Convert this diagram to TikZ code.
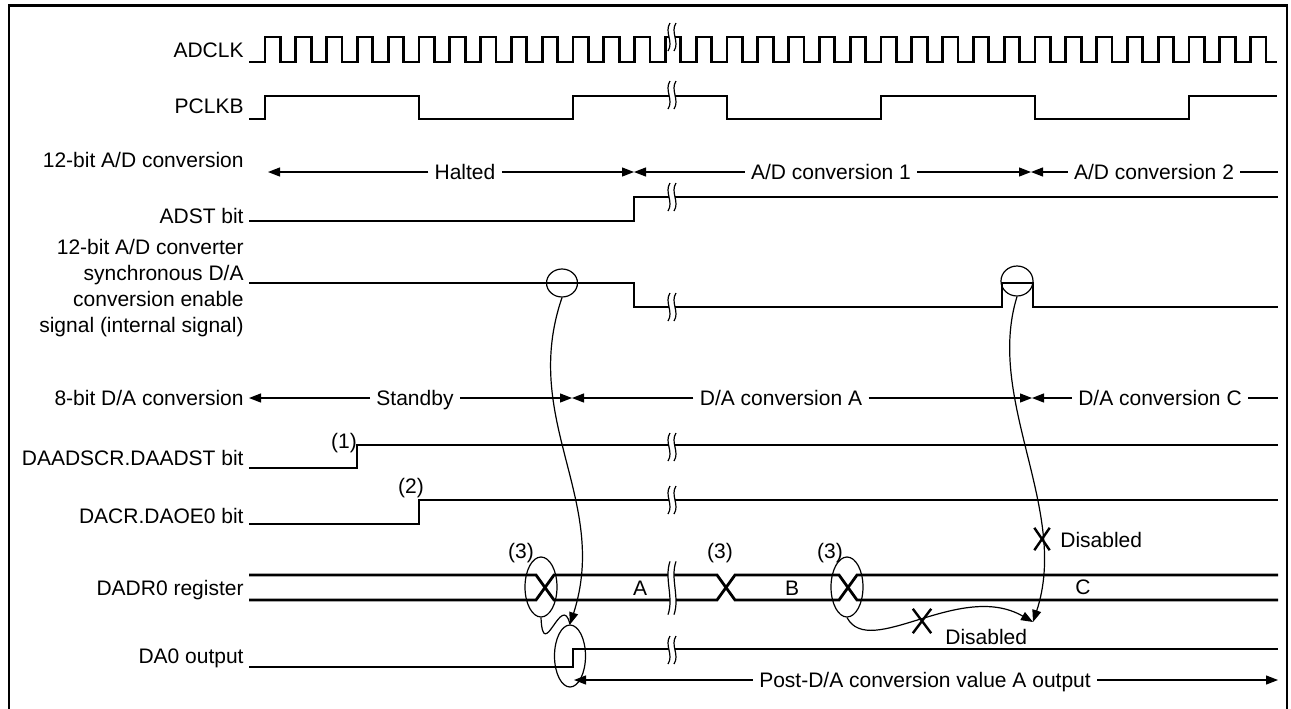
\documentclass[tikz,border=0pt]{standalone}
\usepackage{fontspec}
\setmainfont{Liberation Sans}
\usetikzlibrary{arrows.meta,shapes.geometric,shapes.misc}

\begin{document}
\begin{tikzpicture}[
  x=0.5pt,y=-0.5pt,
  font=\fontsize{10.5}{13}\selectfont,
  sig/.style={line width=1.4pt},
  wire/.style={line width=0.6pt},
  arr/.style={wire,-{Triangle[length=6pt,width=4.5pt]}},
  lbl/.style={anchor=base east,inner sep=0pt},
  tag/.style={inner sep=3pt,text height=7.5pt,text depth=0pt},
  ring/.style={ellipse,draw,wire,inner sep=0pt},
  nope/.style={cross out,draw,line width=1.2pt,inner sep=0pt},
  cut/.pic={
    \fill[white] (-2,-14) .. controls (-8,-5) and (2,5) .. (-4,14) -- (2,14)
      .. controls (8,5) and (-2,-5) .. (4,-14) -- cycle;
    \draw[wire] (-2,-14) .. controls (-8,-5) and (2,5) .. (-4,14);
    \draw[wire] (4,-14) .. controls (-2,-5) and (8,5) .. (2,14);
  }
]
\useasboundingbox (0,0) rectangle (1291,708);
\draw[line width=1.3pt] (9,712) -- (9,5.5) -- (1287,5.5) -- (1287,712);

% signal names
\node[lbl] (adclk) at (244,57) {ADCLK};
\node[lbl] (pclkb) at (244,113) {PCLKB};
\node[lbl] (adconv) at (244,167) {12-bit A/D conversion};
\node[lbl] (adst) at (244,223) {ADST bit};
\node[anchor=east,inner sep=0pt,align=right] (syncen) at (244,288)
  {12-bit A/D converter\\synchronous D/A\\conversion enable\\signal (internal signal)};
\node[lbl] (daconv) at (244,405) {8-bit D/A conversion};
\node[lbl] (daadst) at (244,465) {DAADSCR.DAADST bit};
\node[lbl] (daoe) at (244,523) {DACR.DAOE0 bit};
\node[lbl] (dadr) at (244,595) {DADR0 register};
\node[lbl] (daout) at (244,663) {DA0 output};

% waveforms
\draw[sig] (249,62) foreach \k in {0,...,32} {
  -- ({265+30.8*\k},62) -- ++(0,-25) -- ++(15.4,0) -- ++(0,25)} -- (1277,62);
\draw[sig] (249,119) -| (265,96) -| (419,119) -| (573,96) -| (727,119)
  -| (881,96) -| (1035,119) -| (1189,96) -- (1277,96);
\draw[sig] (249,221) -| (634,197) -- (1278,197);
\draw[sig] (249,283) -| (634,307) -| (1002,283) -| (1033,307) -- (1278,307);
\draw[sig] (249,468) -| (357,445) -- (1278,445);
\draw[sig] (249,524) -| (419,500) -- (1278,500);
\draw[sig] (249,575) -- (536,575) -- (554,600) -- (717,600) -- (735,575)
  -- (839,575) -- (857,600) -- (1278,600);
\draw[sig] (249,600) -- (536,600) -- (554,575) -- (717,575) -- (735,600)
  -- (839,600) -- (857,575) -- (1278,575);
\draw[sig] (249,667) -| (573,649) -- (1278,649);

% time breaks
\foreach \y in {37,95,197,307,447,500,650}
  \pic at (672,\y) {cut};
\pic[yscale=1.9] at (672,588) {cut};

% A/D conversion periods
\coordinate (adL) at (268,172);
\coordinate (adM) at (634,172);
\coordinate (adN) at (1031,172);
\coordinate (adR) at (1278,172);
\node[tag] (halted) at (465,172) {Halted};
\node[tag] (adone) at (831,172) {A/D conversion 1};
\node[tag] (adtwo) at (1154,172) {A/D conversion 2};
\draw[arr] (halted.west) -- (adL);
\draw[arr] (halted.east) -- (adM);
\draw[arr] (adone.west) -- (adM);
\draw[arr] (adone.east) -- (adN);
\draw[arr] (adtwo.west) -- (adN);
\draw[wire] (adtwo.east) -- (adR);

% D/A conversion periods
\coordinate (daL) at (249,398);
\coordinate (daM) at (572,398);
\coordinate (daN) at (1032,398);
\coordinate (daR) at (1278,398);
\node[tag] (standby) at (415,398) {Standby};
\node[tag] (convA) at (781,398) {D/A conversion A};
\node[tag] (convC) at (1160,398) {D/A conversion C};
\draw[arr] (standby.west) -- (daL);
\draw[arr] (standby.east) -- (daM);
\draw[arr] (convA.west) -- (daM);
\draw[arr] (convA.east) -- (daN);
\draw[arr] (convC.west) -- (daN);
\draw[wire] (convC.east) -- (daR);

% notes on the register rows
\node[tag] (n1) at (344,441) {(1)};
\node[tag] (n2) at (411,486) {(2)};
\node[tag] (n3a) at (521,551) {(3)};
\node[tag] (n3b) at (720,551) {(3)};
\node[tag] (n3c) at (830,551) {(3)};
\node[tag] (valA) at (640,588) {A};
\node[tag] (valB) at (792,588) {B};
\node[tag] (valC) at (1083,587) {C};

% marked events
\node[ring,minimum width=15.5pt,minimum height=14pt] (en1) at (562,283) {};
\node[ring,minimum width=16pt,minimum height=15pt] (en2) at (1017,281) {};
\node[ring,minimum width=16pt,minimum height=30pt] (rg1) at (541,587) {};
\node[ring,minimum width=16pt,minimum height=30pt] (rg3) at (847,587) {};
\node[ring,minimum width=15.5pt,minimum height=31pt] (dao) at (570,656) {};
\coordinate (cnv) at (1033,622);
\draw[arr] (en1.south) .. controls (520,420) and (610,500) .. (dao.north);
\draw[wire] (rg1.south) .. controls (543,665) and (562,590) .. (dao.north);
\draw[arr] (en2.south) .. controls (985,400) and (1070,510) .. (cnv);
\draw[arr] (rg3.south) .. controls (870,660) and (960,580) .. (cnv);
\node[nope,minimum width=6.5pt,minimum height=10pt] (x1) at (1042,539) {};
\node[nope,minimum width=8pt,minimum height=11pt] (x2) at (922,621) {};
\node[tag,anchor=west,inner sep=1pt] (dis1) at (1058,540) {Disabled};
\node[tag,anchor=west,inner sep=1pt] (dis2) at (943,637) {Disabled};

% DA0 output period
\coordinate (pdL) at (574,680);
\coordinate (pdR) at (1278,680);
\node[tag] (post) at (925,680) {Post-D/A conversion value A output};
\draw[arr] (post.west) -- (pdL);
\draw[arr] (post.east) -- (pdR);
\end{tikzpicture}
\end{document}
